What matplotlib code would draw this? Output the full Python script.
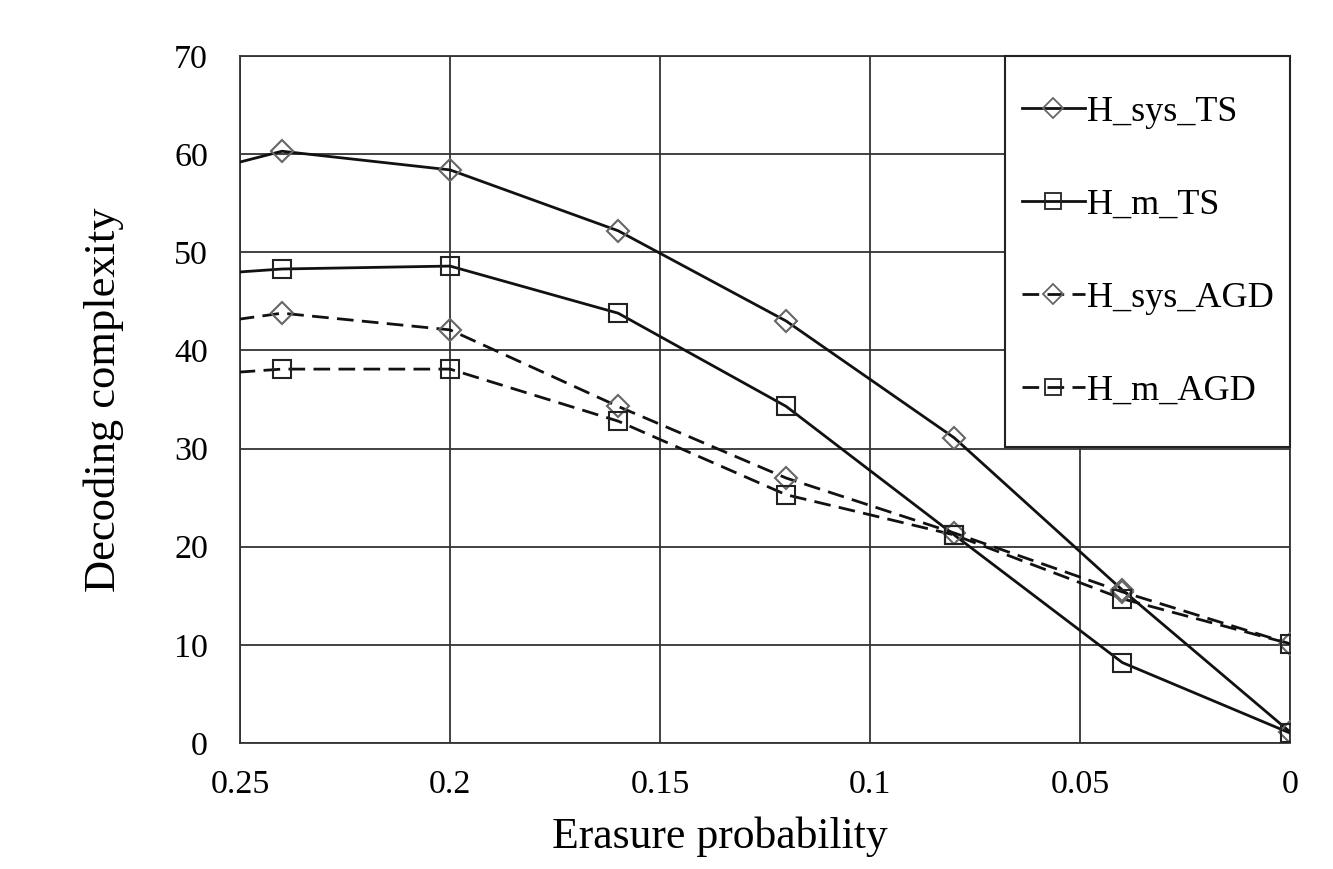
import numpy as np
import matplotlib.pyplot as plt
from matplotlib.lines import Line2D
from matplotlib.patches import Rectangle

plt.rcParams['font.family'] = ['Liberation Serif', 'DejaVu Serif']

# data (first point lies outside the axis and is clipped)
erasure_prob = [0.28, 0.24, 0.2, 0.16, 0.12, 0.08, 0.04, 0.0]
h_sys_ts = [55.9, 60.3, 58.4, 52.2, 43.0, 31.1, 15.6, 1.1]
h_m_ts = [47.1, 48.3, 48.6, 43.8, 34.3, 21.2, 8.2, 1.0]
h_sys_agd = [41.4, 43.8, 42.1, 34.3, 27.0, 21.4, 15.4, 10.1]
h_m_agd = [36.9, 38.1, 38.1, 32.8, 25.3, 21.2, 14.7, 10.1]

x_ticks = [0.25, 0.2, 0.15, 0.1, 0.05, 0]
x_tick_labels = ['0.25', '0.2', '0.15', '0.1', '0.05', '0']
y_ticks = [0, 10, 20, 30, 40, 50, 60, 70]

fig = plt.figure(figsize=(13.33, 8.69), dpi=100)
ax = fig.add_axes([0.18, 0.145, 0.788, 0.7905])

dash = (0, (6, 3))
series = [
    (h_sys_ts, 'H_sys_TS', '-', 'D', '#666666', 11),
    (h_m_ts, 'H_m_TS', '-', 's', '#222222', 12.5),
    (h_sys_agd, 'H_sys_AGD', dash, 'D', '#666666', 11),
    (h_m_agd, 'H_m_AGD', dash, 's', '#222222', 12.5),
]

handles = []
for y, label, ls, mk, mec, ms in series:
    ax.plot(erasure_prob, y, color='#111111', linestyle=ls, linewidth=2, zorder=3)
    ax.plot(erasure_prob[1:], y[1:], linestyle='none', marker=mk, markersize=ms,
            markerfacecolor='none', markeredgecolor=mec, markeredgewidth=1.5, zorder=4)
    handles.append(Line2D([], [], color='#111111', linestyle=ls, linewidth=2, marker=mk,
                          markersize=ms * 0.9, markerfacecolor='none',
                          markeredgecolor=mec, markeredgewidth=1.3))

ax.set_xlim(0.25, 0)
ax.set_ylim(0, 70)
ax.set_xticks(x_ticks)
ax.set_xticklabels(x_tick_labels)
ax.set_yticks(y_ticks)
ax.tick_params(axis='x', length=0, labelsize=24.5, pad=19)
ax.tick_params(axis='y', length=0, labelsize=24.5, pad=23)
ax.grid(True, color='#333333', linewidth=1.3)
ax.set_axisbelow(True)
for s in ax.spines.values():
    s.set_color('#333333')
    s.set_linewidth(1.3)

ax.set_xlabel('Erasure probability', fontsize=31.5, labelpad=12)
ax.xaxis.label.set_x(0.457)
ax.set_ylabel('Decoding complexity', fontsize=32, labelpad=36)

# legend box in the upper right corner of the plot area
box = (0.7286, 0.4309, 0.2714, 0.5691)
ax.add_patch(Rectangle(box[:2], box[2], box[3], transform=ax.transAxes,
                       facecolor='white', edgecolor='#222222', linewidth=1.5,
                       zorder=4.5, clip_on=False))
leg = ax.legend(handles=handles, labels=[s[1] for s in series], loc='center',
                bbox_to_anchor=box, borderaxespad=0, fontsize=26,
                handlelength=1.75, handletextpad=0.05, labelspacing=1.65,
                frameon=False)
leg.set_zorder(5)

plt.savefig('out.png', dpi=100)
